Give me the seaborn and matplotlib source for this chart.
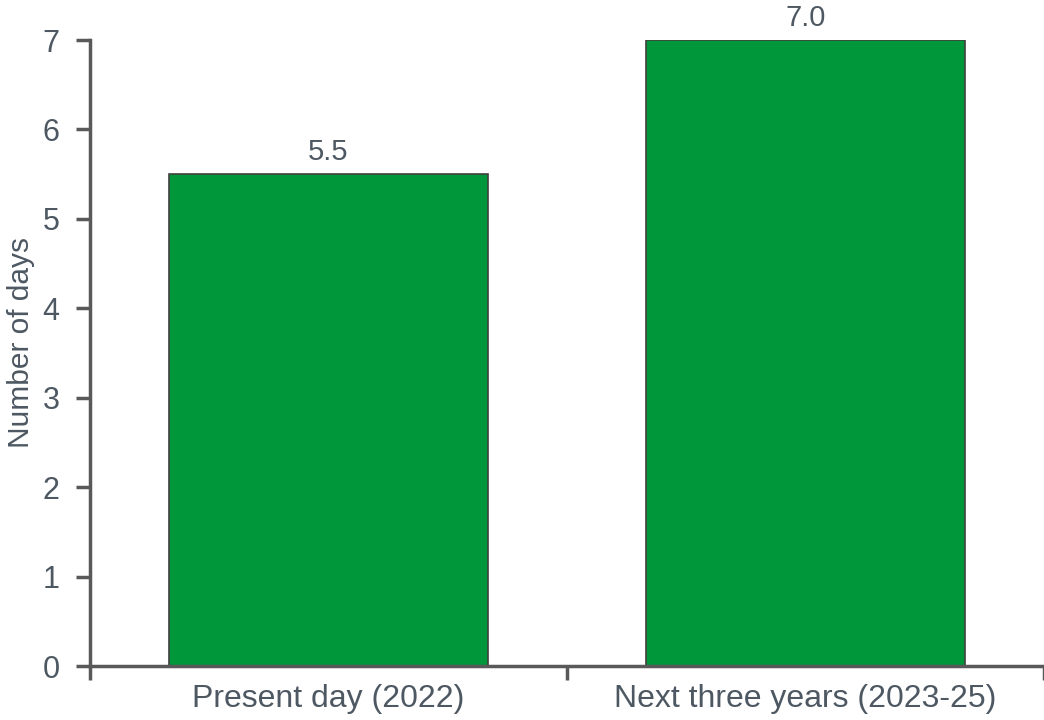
import pandas as pd
import seaborn as sns
import matplotlib.pyplot as plt

# Data
periods = ["Present day (2022)", "Next three years (2023-25)"]
days = [5.5, 7.0]

df = pd.DataFrame({"period": periods, "days": days})

sns.set_style("ticks")
plt.rcParams["font.family"] = ["Liberation Sans", "DejaVu Sans"]

text_color = "#4d5862"
spine_color = "#595959"

fig = plt.figure(figsize=(10.44, 7.2), dpi=100)
ax = fig.add_axes([90 / 1044, 54 / 720, 954 / 1044, 626 / 720])

sns.barplot(data=df, x="period", y="days", color="#00963a", width=0.667,
            edgecolor="#404040", linewidth=1.2, saturation=1, ax=ax)

for c in ax.containers:
    ax.bar_label(c, fmt="%.1f", padding=6, fontsize=21, color=text_color)

ax.set_xlim(-0.5, 1.5)
ax.set_ylim(0, 7)
ax.set_yticks(range(0, 8))
ax.set_xlabel("")
ax.set_ylabel("Number of days", fontsize=21.5, color=text_color)
ax.yaxis.set_label_coords(-0.058, 0.516)

# category ticks sit between the bars
ax.set_xticks([-0.5, 0.5, 1.5], minor=True)
ax.tick_params(axis="x", which="major", length=0, pad=13, labelsize=23, labelcolor=text_color)
ax.tick_params(axis="x", which="minor", length=10, width=2.5, color=spine_color, direction="out")
ax.tick_params(axis="y", length=10, width=2.5, color=spine_color, labelsize=22, labelcolor=text_color, pad=12)

for side in ["top", "right"]:
    ax.spines[side].set_visible(False)
for side in ["left", "bottom"]:
    ax.spines[side].set_color(spine_color)
    ax.spines[side].set_linewidth(2.5)

for t in ax.texts:
    t.set_clip_on(False)

fig.savefig("out.png", dpi=100)
